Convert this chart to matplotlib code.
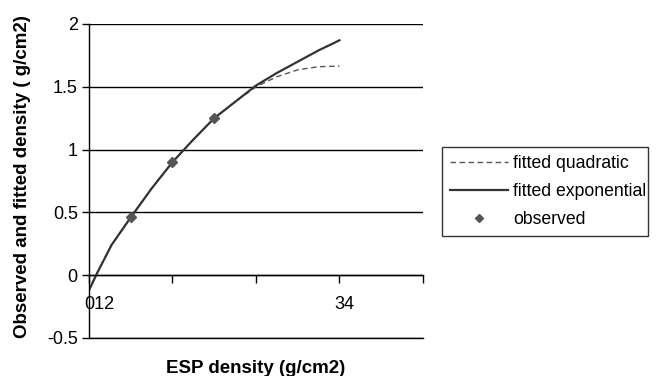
import matplotlib.pyplot as plt
from matplotlib.transforms import ScaledTranslation

plt.rcParams['font.family'] = ['Liberation Sans', 'DejaVu Sans']

# fitted curves
x_fit = [0, 0.1, 0.27, 0.5, 0.75, 1.0, 1.25, 1.5, 1.75, 2.0, 2.25, 2.5, 2.75, 3.0]
y_exp = [-0.12, 0.02, 0.24, 0.46, 0.69, 0.90, 1.08, 1.25, 1.38, 1.51, 1.61, 1.70, 1.79, 1.87]
y_quad = [-0.12, 0.02, 0.24, 0.46, 0.69, 0.90, 1.08, 1.25, 1.38, 1.50, 1.58, 1.635, 1.66, 1.665]

# observed points
x_obs = [0.5, 1.0, 1.5]
y_obs = [0.46, 0.90, 1.25]

y_ticks = [-0.5, 0, 0.5, 1, 1.5, 2]
x_ticks = [0, 1, 2, 3, 4]
x_ticklabels = ['012', '', '', '34', '']

fig = plt.figure(figsize=(6.61, 3.76), dpi=100)
ax = fig.add_axes([0.1346, 0.1011, 0.5053, 0.8351])

ax.plot(x_fit, y_quad, color='#555555', lw=1.0, ls=(0, (4, 2.5)), label='fitted quadratic')
ax.plot(x_fit, y_exp, color='#333333', lw=1.6, label='fitted exponential')
ax.plot(x_obs, y_obs, ls='none', marker='D', ms=5, color='#555555', label='observed')

ax.set_xlim(0, 4)
ax.set_ylim(-0.5, 2)
ax.set_yticks(y_ticks)
ax.set_yticklabels(['-0.5', '0', '0.5', '1', '1.5', '2'])
ax.yaxis.grid(True, color='black', lw=1.0)
ax.set_axisbelow(True)
ax.axhline(-0.5, color='black', lw=1.0, clip_on=False)

ax.spines['bottom'].set_position(('data', 0))
ax.spines['right'].set_visible(False)
ax.spines['top'].set_visible(False)
ax.spines['left'].set_linewidth(1.0)
ax.spines['bottom'].set_linewidth(1.0)

ax.set_xticks(x_ticks)
ax.set_xticklabels(x_ticklabels)
ax.tick_params(axis='x', direction='out', length=6, width=1, pad=9, labelsize=13)
ax.tick_params(axis='y', direction='out', length=5, width=1, pad=3, labelsize=13)
shift = ScaledTranslation(-5 / 100, 0, fig.dpi_scale_trans)
for lab in ax.get_xticklabels():
    lab.set_horizontalalignment('left')
    lab.set_transform(lab.get_transform() + shift)

fig.text(0.387, 0.02, 'ESP density (g/cm2)', ha='center', va='center',
         fontsize=13.5, fontweight='bold')
fig.text(0.034, 0.53, 'Observed and fitted density ( g/cm2)', ha='center', va='center',
         rotation=90, fontsize=13.5, fontweight='bold')

leg = ax.legend(loc='upper left', bbox_to_anchor=(442 / 661, 1 - 238 / 376, 206 / 661, 91 / 376),
                bbox_transform=fig.transFigure, mode='expand', fontsize=12.7, frameon=True,
                fancybox=False, handlelength=3.3, handletextpad=0.3, borderpad=0.45,
                labelspacing=0.62, borderaxespad=0, markerscale=0.75)
leg.get_frame().set_edgecolor('black')
leg.get_frame().set_linewidth(1.0)

plt.savefig('out.png', dpi=100)
